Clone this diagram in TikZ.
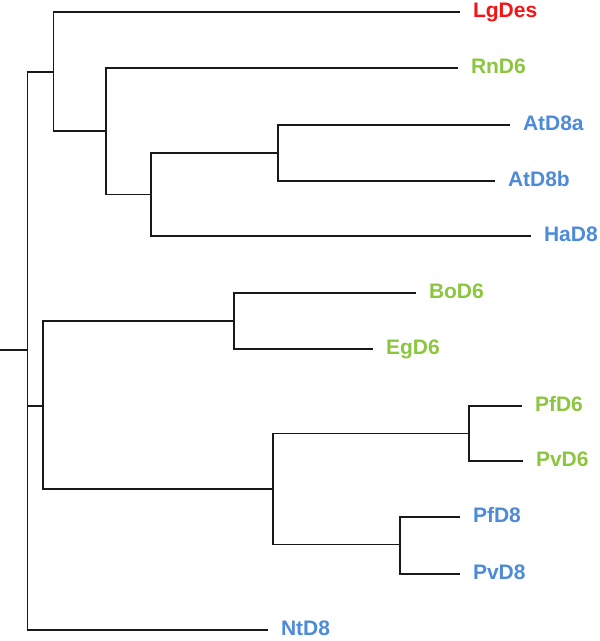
\documentclass[tikz,border=0pt]{standalone}
\usepackage{fontspec}
\setmainfont{Liberation Sans}
\usepackage{xcolor}
\usepackage{tikz}
\usetikzlibrary{positioning}
\definecolor{desred}{HTML}{F41414}
\definecolor{dsixgreen}{HTML}{8CC63F}
\definecolor{deightblue}{HTML}{4D8AD8}

\begin{document}
\begin{tikzpicture}[x=1pt,y=-1pt,font=\bfseries\fontsize{21}{25}\selectfont,
  branch/.style={line width=1.9pt,black!90},
  leaf/.style={anchor=west,inner xsep=0pt,inner ysep=0pt,outer xsep=13pt,outer ysep=0pt,text height=15pt,text depth=4pt}]
\useasboundingbox (0,0) rectangle (600,641);
% inner nodes of the tree
\coordinate (root) at (0,350);
\coordinate (n1) at (27.5,350);
\coordinate (nA) at (53.5,72);
\coordinate (nB) at (106,131);
\coordinate (nC) at (151,194.5);
\coordinate (nD) at (278,153);
\coordinate (nE) at (43,406);
\coordinate (nF) at (234,320.7);
\coordinate (nG) at (272.7,489);
\coordinate (nH) at (469,433.5);
\coordinate (nI) at (400,544.5);
% leaves
\foreach \nm/\x/\y/\col/\txt in {lgdes/460/12.3/desred/LgDes, rnd6/458/67.7/dsixgreen/RnD6,
  atd8a/510/124.7/deightblue/AtD8a, atd8b/495/181/deightblue/AtD8b, had8/531/236.3/deightblue/HaD8,
  bod6/416/292.7/dsixgreen/BoD6, egd6/373/348.7/dsixgreen/EgD6, pfd6/522/406/dsixgreen/PfD6,
  pvd6/523/461.3/dsixgreen/PvD6, pfd8/460/516.7/deightblue/PfD8, pvd8/460/574/deightblue/PvD8,
  ntd8/268/630/deightblue/NtD8}
  \node[leaf,text=\col] (\nm) at (\x,\y) {\txt};
% branches
\draw[branch] (root) -- (n1);
\foreach \a/\b in {n1/nA, n1/nE, n1/ntd8, nA/lgdes, nA/nB, nB/rnd6, nB/nC, nC/nD, nC/had8,
  nD/atd8a, nD/atd8b, nE/nF, nE/nG, nF/bod6, nF/egd6, nG/nH, nG/nI, nH/pfd6, nH/pvd6,
  nI/pfd8, nI/pvd8}
  \draw[branch] (\a) |- (\b);
\end{tikzpicture}
\end{document}
